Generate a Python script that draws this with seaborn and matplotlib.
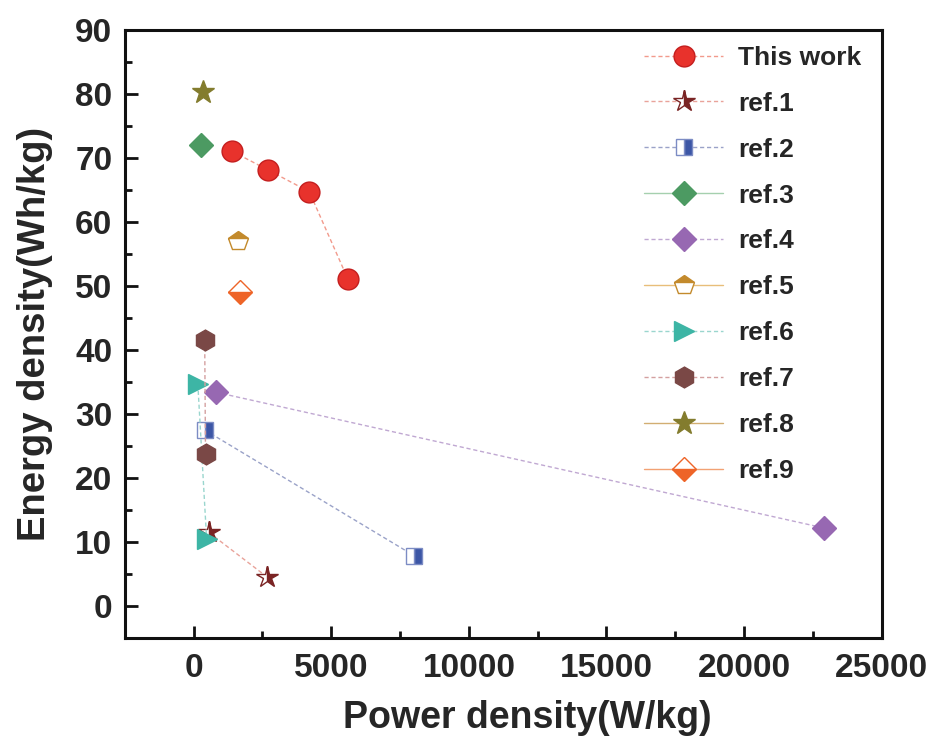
import matplotlib
matplotlib.use("Agg")
import matplotlib.pyplot as plt
import seaborn as sns
import pandas as pd
import numpy as np

# ---- data ----
labels = ["This work", "ref.1", "ref.2", "ref.3", "ref.4", "ref.5", "ref.6", "ref.7", "ref.8", "ref.9"]
x_this = [1400, 2700, 4200, 5600]
y_this = [71.0, 68.1, 64.7, 51.1]
x_r1 = [550, 2650]
y_r1 = [11.5, 4.6]
x_r2 = [400, 8000]
y_r2 = [27.5, 7.9]
x_r3 = [250]
y_r3 = [72.0]
x_r4 = [800, 22900]
y_r4 = [33.4, 12.2]
x_r5 = [1600]
y_r5 = [57.0]
x_r6 = [150, 470]
y_r6 = [34.7, 10.5]
x_r7 = [400, 430]
y_r7 = [41.5, 23.7]
x_r8 = [350]
y_r8 = [80.2]
x_r9 = [1700]
y_r9 = [49.0]

xs = [x_this, x_r1, x_r2, x_r3, x_r4, x_r5, x_r6, x_r7, x_r8, x_r9]
ys = [y_this, y_r1, y_r2, y_r3, y_r4, y_r5, y_r6, y_r7, y_r8, y_r9]

x_ticks = [0, 5000, 10000, 15000, 20000, 25000]
y_ticks = [0, 10, 20, 30, 40, 50, 60, 70, 80, 90]

# ---- styles ----
styles = [
    dict(marker="o", ms=15, mfc="#E8322C", mec="#C41E1E", mew=1.0, color="#F29A8C", ls=(0, (3, 2)), fillstyle="full"),
    dict(marker="*", ms=16, mfc="#7A2424", mec="#7A2424", mew=1.0, color="#E9A39A", ls=(0, (3, 2)), fillstyle="right", mfcalt="white"),
    dict(marker="s", ms=11, mfc="#3C56A6", mec="#7C8CC4", mew=1.0, color="#9AA2C8", ls=(0, (3, 2)), fillstyle="right", mfcalt="white"),
    dict(marker="D", ms=12, mfc="#4C9A62", mec="#4C9A62", mew=1.0, color="#A5D0AE", ls="-", fillstyle="full"),
    dict(marker="D", ms=12, mfc="#9768B2", mec="#9768B2", mew=1.0, color="#C0A8D2", ls=(0, (3, 2)), fillstyle="full"),
    dict(marker="p", ms=15, mfc="#C38A2C", mec="#C38A2C", mew=1.0, color="#E8BE7A", ls="-", fillstyle="top", mfcalt="white"),
    dict(marker=">", ms=15, mfc="#3DB5A5", mec="#3DB5A5", mew=1.0, color="#9AD6CE", ls=(0, (3, 2)), fillstyle="full"),
    dict(marker="h", ms=15, mfc="#7A4846", mec="#7A4846", mew=1.0, color="#D4A0A0", ls=(0, (3, 2)), fillstyle="full"),
    dict(marker="*", ms=17, mfc="#837C2E", mec="#837C2E", mew=1.0, color="#D2AE72", ls="-", fillstyle="full"),
    dict(marker="D", ms=12, mfc="#EE6428", mec="#EE6428", mew=1.0, color="#F2A274", ls="-", fillstyle="bottom", mfcalt="white"),
]

sns.set_style("ticks")
plt.rcParams["font.family"] = ["Liberation Sans", "DejaVu Sans"]
plt.rcParams["font.weight"] = "bold"

fig = plt.figure(figsize=(9.32, 7.42), dpi=100)
ax = fig.add_axes([0.134, 0.140, 0.812, 0.820])

for lab, xv, yv, st in zip(labels, xs, ys, styles):
    df = pd.DataFrame({"x": xv, "y": yv})
    kw = dict(marker=st["marker"], markersize=st["ms"], markerfacecolor=st["mfc"],
              markeredgecolor=st["mec"], markeredgewidth=st["mew"], fillstyle=st["fillstyle"],
              linestyle=st["ls"], linewidth=1.0)
    if "mfcalt" in st:
        kw["markerfacecoloralt"] = st["mfcalt"]
    sns.lineplot(data=df, x="x", y="y", ax=ax, color=st["color"], label=lab,
                 estimator=None, sort=False, **kw)

ax.set_xlim(-2500, 25000)
ax.set_ylim(-5, 90)
ax.set_xticks(x_ticks)
ax.set_yticks(y_ticks)
ax.set_xticks(np.arange(-2500, 25001, 2500), minor=True)
ax.set_yticks(np.arange(-5, 91, 5), minor=True)
ax.tick_params(which="major", direction="in", length=9, width=2, labelsize=24, color="#111111")
ax.tick_params(axis="x", which="major", pad=11)
ax.tick_params(axis="y", which="major", pad=9)
ax.tick_params(which="minor", direction="in", length=5, width=2, color="#111111")
for lab in ax.get_xticklabels() + ax.get_yticklabels():
    lab.set_fontweight("bold")
for s in ax.spines.values():
    s.set_linewidth(2.2)
    s.set_color("#111111")
    s.set_visible(True)

ax.set_xlabel("Power density(W/kg)", fontsize=27, fontweight="bold")
ax.set_ylabel("Energy density(Wh/kg)", fontsize=27.5, fontweight="bold", labelpad=16)
ax.xaxis.set_label_coords(0.532, -0.132, transform=ax.transAxes)
ax.xaxis.label.set_verticalalignment("center")

leg = ax.legend(loc="upper left", bbox_to_anchor=(0.66, 1.006), frameon=False,
                prop={"size": 19, "weight": "bold"}, handlelength=3.0,
                labelspacing=0.83, handletextpad=0.57, borderaxespad=0.35)

fig.savefig("out.png", dpi=100)
